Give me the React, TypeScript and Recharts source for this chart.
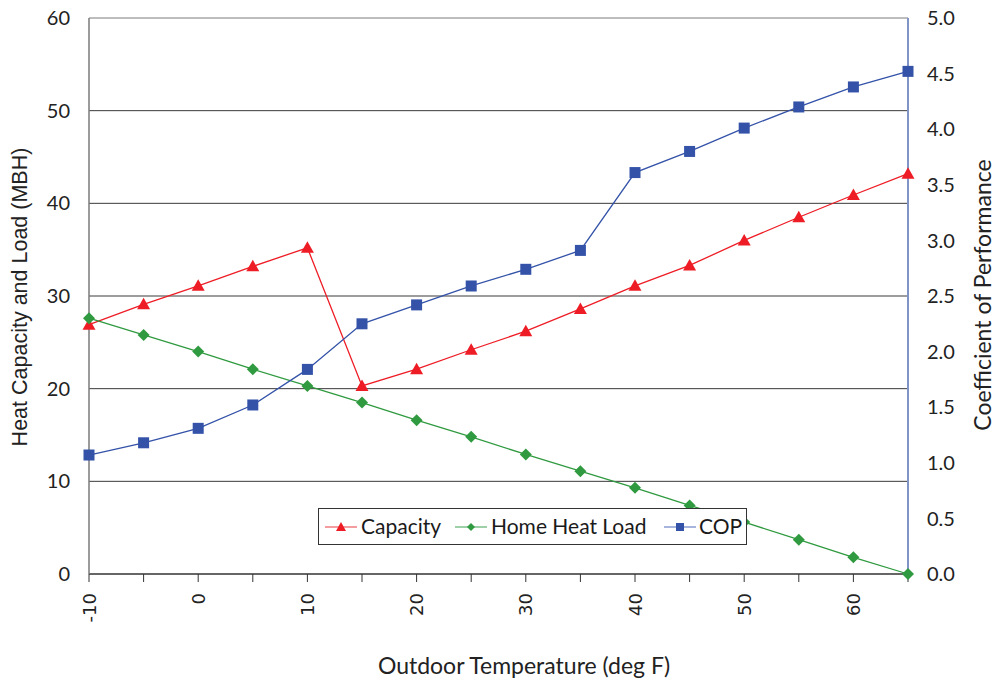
import React from 'react';
import { LineChart, Line, XAxis, YAxis, CartesianGrid, ReferenceLine, Legend } from 'recharts';

const temps = [-10, -5, 0, 5, 10, 15, 20, 25, 30, 35, 40, 45, 50, 55, 60, 65];
const capacity = [26.9, 29.1, 31.1, 33.2, 35.2, 20.3, 22.1, 24.2, 26.2, 28.6, 31.1, 33.3, 36.0, 38.5, 40.9, 43.2];
const heatLoad = [27.6, 25.8, 24.0, 22.1, 20.3, 18.5, 16.6, 14.8, 12.9, 11.1, 9.3, 7.4, 5.6, 3.7, 1.8, 0];
const cop = [1.07, 1.18, 1.31, 1.52, 1.84, 2.25, 2.42, 2.59, 2.74, 2.91, 3.61, 3.80, 4.01, 4.20, 4.38, 4.52];
const leftTicks = [0, 10, 20, 30, 40, 50, 60];
const rightTicks = [0, 0.5, 1.0, 1.5, 2.0, 2.5, 3.0, 3.5, 4.0, 4.5, 5.0];
const gridValues = [10, 20, 30, 40, 50];

const data = temps.map((t, i) => ({ temp: t, capacity: capacity[i], load: heatLoad[i], cop: cop[i] }));

const RED = '#ee1c25';
const GREEN = '#2f9a3f';
const BLUE = '#3352a8';
const FONT = 'Lato, "Open Sans", sans-serif';

const Triangle = (p: any) => {
  const { cx, cy } = p;
  if (cx == null || cy == null) return null;
  return <polygon points={`${cx},${cy - 6.5} ${cx - 6.5},${cy + 5} ${cx + 6.5},${cy + 5}`} fill={RED} />;
};
const Diamond = (p: any) => {
  const { cx, cy } = p;
  if (cx == null || cy == null) return null;
  return <polygon points={`${cx},${cy - 6} ${cx + 6},${cy} ${cx},${cy + 6} ${cx - 6},${cy}`} fill={GREEN} />;
};
const Square = (p: any) => {
  const { cx, cy } = p;
  if (cx == null || cy == null) return null;
  return <rect x={cx - 5.5} y={cy - 5.5} width={11} height={11} fill={BLUE} />;
};

const XTick = (p: any) => {
  const { x, payload } = p;
  const v = payload.value;
  if (v % 10 !== 0) return null;
  const ty = 593;
  return (
    <text x={x} y={ty} transform={`rotate(-90, ${x}, ${ty})`} textAnchor="end" dominantBaseline="central"
      fontFamily='"DejaVu Sans", sans-serif' fontSize={18} fill="#222">{v}</text>
  );
};

const legendItems = [
  { name: 'Capacity', color: RED, line: '#f07c80', shape: 'tri', sx: 6, tx: 42 },
  { name: 'Home Heat Load', color: GREEN, line: '#7cc08a', shape: 'dia', sx: 136, tx: 172 },
  { name: 'COP', color: BLUE, line: '#8a9cd0', shape: 'sq', sx: 345, tx: 380 },
];

const LegendContent = () => (
  <div style={{ position: 'relative', width: 429, height: 37, border: '1px solid #333', background: '#fff', boxSizing: 'border-box' }}>
    {legendItems.map((it) => (
      <React.Fragment key={it.name}>
        <svg width={32} height={14} style={{ position: 'absolute', left: it.sx, top: 11 }}>
          <line x1={0} y1={7} x2={32} y2={7} stroke={it.line} strokeWidth={1.5} />
          {it.shape === 'tri' && <polygon points="16,2 11,11 21,11" fill={it.color} />}
          {it.shape === 'dia' && <polygon points="16,3 20,7 16,11 12,7" fill={it.color} />}
          {it.shape === 'sq' && <rect x={12} y={3} width={8} height={8} fill={it.color} />}
        </svg>
        <span style={{ position: 'absolute', left: it.tx, top: 4, fontFamily: FONT, fontSize: 21, color: '#1a1a1a', whiteSpace: 'nowrap', lineHeight: '26px' }}>{it.name}</span>
      </React.Fragment>
    ))}
  </div>
);

export default function App() {
  return (
    <div style={{ position: 'absolute', left: 0, top: 0, width: 1004, height: 681, background: '#fff' }}>
      <LineChart width={1004} height={681} data={data} margin={{ top: 18, right: 0, bottom: 0, left: 0 }}>
        <CartesianGrid horizontal vertical={false} horizontalValues={gridValues} stroke="#3a3a3a" strokeWidth={1} yAxisId="left" />
        <ReferenceLine yAxisId="left" y={60} stroke="#bdbdbd" strokeWidth={2} />
        <XAxis dataKey="temp" type="number" domain={[-10, 65]} ticks={temps} interval={0} height={107}
          axisLine={{ stroke: '#333', strokeWidth: 1.5 }} tickLine={{ stroke: '#333' }} tickSize={8}
          tick={<XTick />}
          label={() => (
            <text x={524} y={665} textAnchor="middle" dominantBaseline="central" fontFamily={FONT} fontSize={23} fill="#222">Outdoor Temperature (deg F)</text>
          )} />
        <YAxis yAxisId="left" domain={[0, 60]} ticks={leftTicks} width={89} tickLine={false} tickSize={0} tickMargin={19}
          axisLine={{ stroke: '#7a7a7a', strokeWidth: 1.5 }}
          tick={{ fontFamily: FONT, fontSize: 20, fill: '#222' }}
          label={() => (
            <text x={20} y={297} transform="rotate(-90, 20, 297)" textAnchor="middle" dominantBaseline="central" fontFamily='"Liberation Sans", Arial, sans-serif' fontSize={21.5} fill="#222">Heat Capacity and Load (MBH)</text>
          )} />
        <YAxis yAxisId="right" orientation="right" domain={[0, 5]} ticks={rightTicks} width={96} tickLine={false} tickSize={0} tickMargin={19}
          axisLine={{ stroke: '#8094c8', strokeWidth: 2 }}
          tickFormatter={(v: number) => v.toFixed(1)}
          tick={{ fontFamily: FONT, fontSize: 20, fill: '#222', textAnchor: 'start' }}
          label={() => (
            <text x={982} y={295} transform="rotate(-90, 982, 295)" textAnchor="middle" dominantBaseline="central" fontFamily={FONT} fontSize={23} fill="#222">Coefficient of Performance</text>
          )} />
        <Legend layout="horizontal" verticalAlign="middle" align="center" content={<LegendContent />}
          wrapperStyle={{ position: 'absolute', left: 318, top: 508, width: 429, height: 37 }} />
        <Line yAxisId="left" dataKey="capacity" name="Capacity" stroke={RED} strokeWidth={1.3} dot={<Triangle />} isAnimationActive={false} />
        <Line yAxisId="left" dataKey="load" name="Home Heat Load" stroke={GREEN} strokeWidth={1.3} dot={<Diamond />} isAnimationActive={false} />
        <Line yAxisId="right" dataKey="cop" name="COP" stroke={BLUE} strokeWidth={1.3} dot={<Square />} isAnimationActive={false} />
      </LineChart>
    </div>
  );
}
